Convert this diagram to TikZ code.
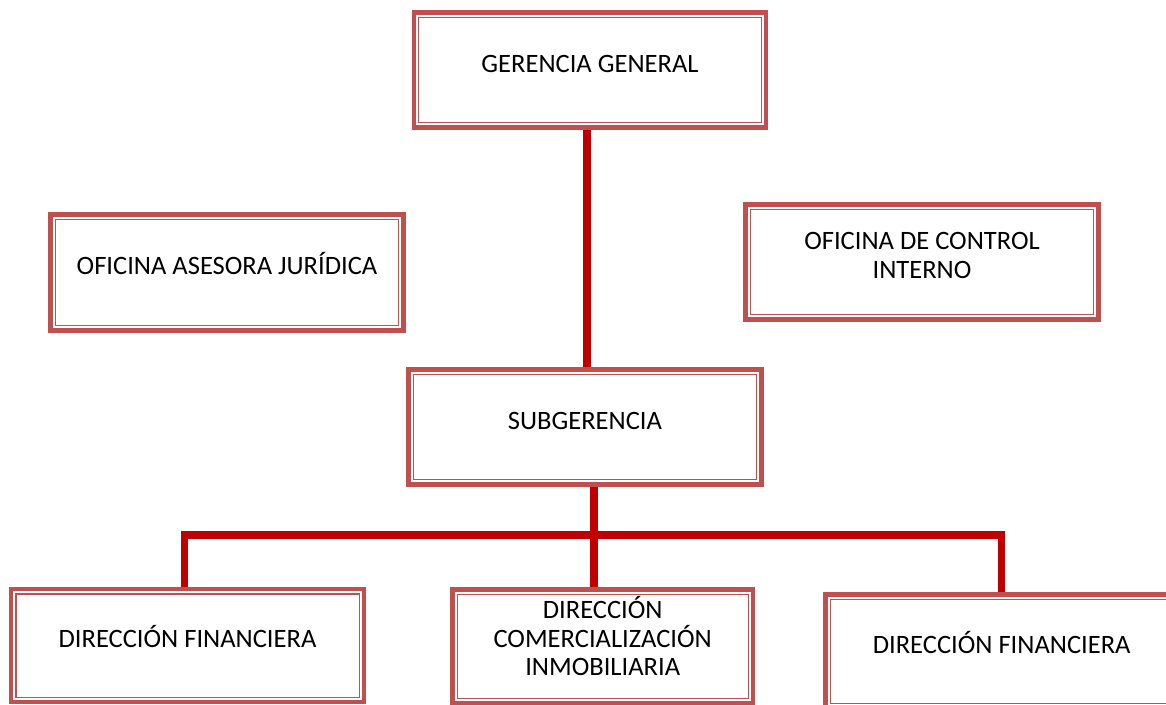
\documentclass[tikz,border=0pt]{standalone}
\usepackage{fontspec}
\setmainfont{Carlito}
\usepackage{tikz}
\usetikzlibrary{positioning, calc}

\definecolor{borde}{HTML}{C0504D}
\definecolor{linea}{HTML}{C00000}

\begin{document}
\begin{tikzpicture}[
    x=0.75pt, y=-0.75pt,
    unidad/.style={rectangle, draw=borde, line width=3.3pt, inner sep=0pt, minimum width=264.5pt, minimum height=86pt, align=center, text=black, font=\fontsize{19.9}{21.5}\selectfont, text height=15pt, text depth=12pt,
        append after command={\pgfextra{\draw[borde, line width=0.8pt] ([shift={(5.25pt,-5.25pt)}]\tikzlastnode.north west) rectangle ([shift={(-5.25pt,5.25pt)}]\tikzlastnode.south east);}}},
    doslineas/.style={text height=30pt, text depth=5.5pt},
    treslineas/.style={text height=50pt, text depth=6.2pt},
    conector/.style={draw=linea, line width=5.6pt}
]
\useasboundingbox (0,0) rectangle (1166,704);

% Gerencia
\node[unidad, minimum width=263.8pt] (gerencia) at (590,70) {GERENCIA GENERAL};

% Oficinas asesoras
\node[unidad, minimum height=86.8pt] (juridica) at (227,272.5) {OFICINA ASESORA JURÍDICA};
\node[unidad, doslineas] (control) at (922,262) {OFICINA DE CONTROL\\INTERNO};

% Subgerencia
\node[unidad] (subgerencia) at (585,427) {SUBGERENCIA};

% Direcciones
\node[unidad, minimum height=84.5pt] (financiera) at (187.5,645.5) {DIRECCIÓN FINANCIERA};
\node[unidad, treslineas, minimum width=225.5pt, minimum height=85.3pt] (comercial) at (602.7,646.5) {DIRECCIÓN\\COMERCIALIZACIÓN\\INMOBILIARIA};
\node[unidad, minimum height=85.3pt] (financiera2) at (1001.7,651.5) {DIRECCIÓN FINANCIERA};

% Lineas
\coordinate (nudo) at (594,535);
\draw[conector] ([xshift=-2.25pt]gerencia.south) -- ([xshift=-2.25pt]gerencia.south |- subgerencia.north);
\draw[conector] (subgerencia.south -| nudo) -- (nudo |- comercial.north);
\draw[conector] ([xshift=-2.4pt]financiera.north) |- (nudo) -| (financiera2.north);

\end{tikzpicture}
\end{document}
